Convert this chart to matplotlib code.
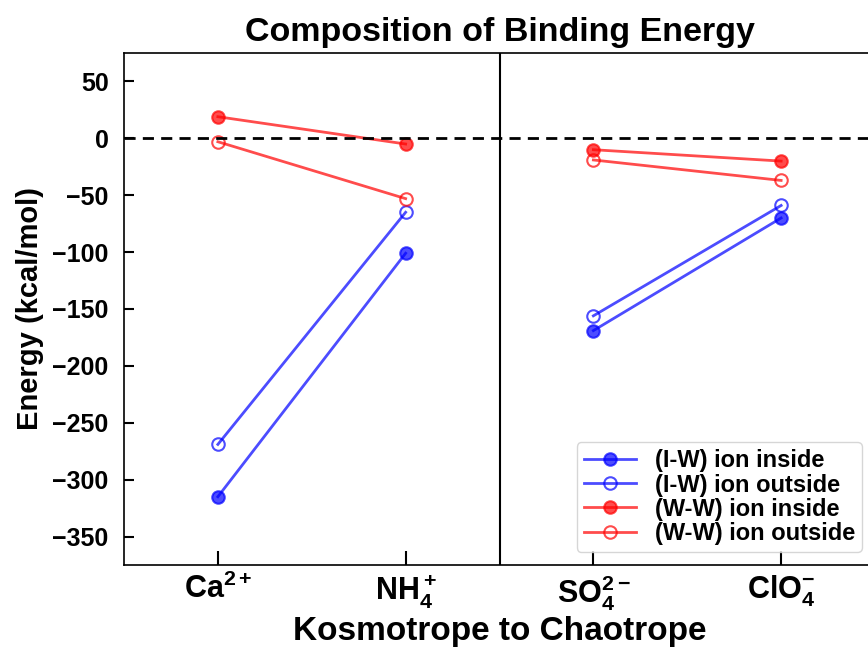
import matplotlib
matplotlib.use("Agg")
import matplotlib.pyplot as plt

plt.rcParams["font.family"] = ["Liberation Sans", "DejaVu Sans"]
plt.rcParams["font.weight"] = "bold"
plt.rcParams["mathtext.fontset"] = "custom"
plt.rcParams["mathtext.rm"] = "Liberation Sans:bold"
plt.rcParams["mathtext.it"] = "Liberation Sans:bold"
plt.rcParams["mathtext.bf"] = "Liberation Sans:bold"

# ions, kosmotrope -> chaotrope (cations left, anions right)
ions = [r"Ca$^{2+}$", r"NH$_4^+$", r"SO$_4^{2-}$", r"ClO$_4^{-}$"]
groups = [[0, 1], [2, 3]]

# energies in kcal/mol
iw_inside = [-315, -101, -169, -70]
iw_outside = [-269, -65, -156, -59]
ww_inside = [19, -5, -10, -20]
ww_outside = [-3, -53, -19, -37]

series = [
    ("(I-W) ion inside", iw_inside, "blue", True),
    ("(I-W) ion outside", iw_outside, "blue", False),
    ("(W-W) ion inside", ww_inside, "red", True),
    ("(W-W) ion outside", ww_outside, "red", False),
]

fig = plt.figure(figsize=(8.68, 6.58), dpi=100)
ax = fig.add_axes([124 / 868, 1 - 565 / 658, (875 - 124) / 868, (565 - 53) / 658])

for label, vals, color, filled in series:
    for k, idx in enumerate(groups):
        ax.plot(idx, [vals[i] for i in idx], "-o", color=color, alpha=0.7,
                lw=2, ms=9, mew=1.5,
                mfc=color if filled else "none",
                label=label if k == 0 else None)

ax.axhline(0, color="black", ls="--", lw=2, dashes=(4, 2.6))
ax.axvline(1.5, color="black", lw=1.5)

ax.set_xlim(-0.5, 3.5)
ax.set_ylim(-375, 75)
ax.set_xticks(range(len(ions)))
ax.set_xticklabels(ions, fontsize=22)
ax.set_yticks(range(-350, 51, 50))
ax.tick_params(axis="y", direction="in", length=7, width=1.5, labelsize=18, pad=11)
ax.tick_params(axis="x", direction="in", length=10, width=1.5, pad=6)
for s in ax.spines.values():
    s.set_linewidth(1.2)

ax.set_title("Composition of Binding Energy", fontsize=24.5, fontweight="bold", pad=9)
ax.set_xlabel("Kosmotrope to Chaotrope", fontsize=24, fontweight="bold", labelpad=2)
ax.set_ylabel("Energy (kcal/mol)", fontsize=21, fontweight="bold", labelpad=6)

ax.legend(loc="lower right", bbox_to_anchor=(1.0, 0.0), fontsize=17,
          labelspacing=0.05, handlelength=2.2, handletextpad=0.8,
          borderpad=0.3, borderaxespad=0.55)

fig.savefig("out.png", dpi=100)
